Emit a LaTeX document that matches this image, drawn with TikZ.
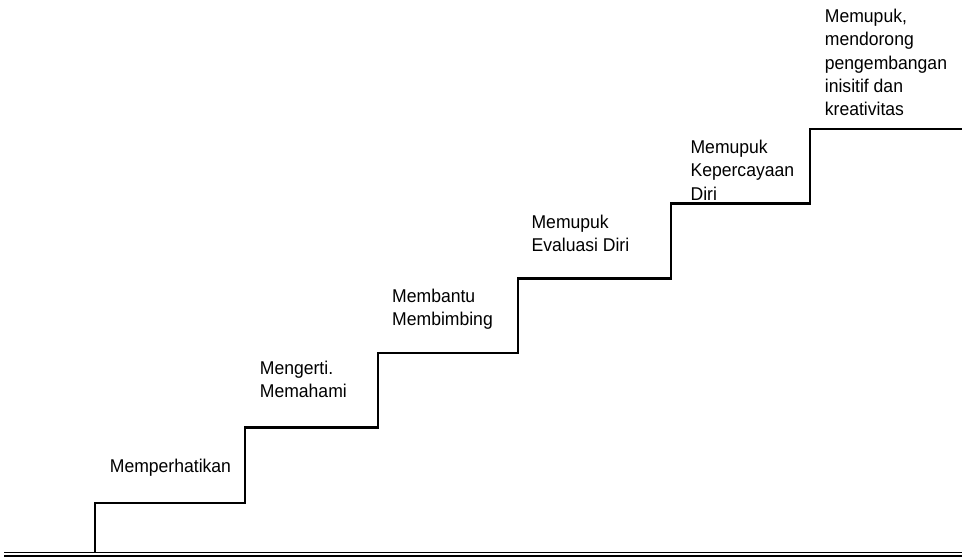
\documentclass[tikz,border=0pt]{standalone}
\usepackage{fontspec}
\setmainfont[FakeStretch=0.95]{Liberation Sans}

\begin{document}
\begin{tikzpicture}[
            x = 1pt, y = -1pt, % pixel grid, y grows down
            line width = 2.2pt, % stair line
            line join = miter
        ]
        \tikzstyle{every node}=[
            anchor = north west,
            align = left,
            inner sep = 0pt,
            font = \fontsize{18.5}{23.1}\selectfont
        ]
        \useasboundingbox (0,0) rectangle (962,557);

        % ground (double line)
        \draw[line width = 1.9pt] (4,552.5) -- (962,552.5);
        \draw[line width = 1.6pt] (4,556) -- (962,556);

        % stairs
        \draw (95,552) |- (245,503) |- (378,427.5) |- (518,353.3)
            |- (671,278.5) |- (810,203.5) |- (962,129);

        \node (s1) at (108.8,458) {Memperhatikan};
        \node (s2) at (258.8,360) {Mengerti.\\Memahami};
        \node (s3) at (391.1,288.3) {Membantu\\Membimbing};
        \node (s4) at (530.5,214) {Memupuk\\Evaluasi Diri};
        \node (s5) at (689.5,139.3) {Memupuk\\Kepercayaan\\Diri};
        \node (s6) at (823.8,8.3) {Memupuk,\\mendorong\\pengembangan\\inisitif dan\\kreativitas};
    \end{tikzpicture}
\end{document}
